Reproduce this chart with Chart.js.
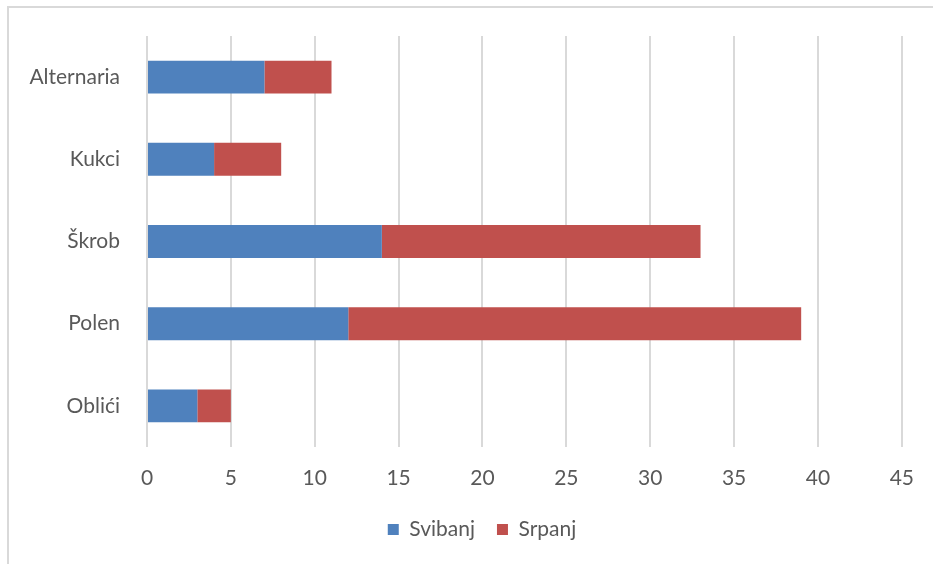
<!DOCTYPE html>
<html>
<head>
<meta charset="utf-8">
<script src="https://cdn.jsdelivr.net/npm/chart.js@4"></script>
<style>
    html, body { margin: 0; padding: 0; background: #fff; }
    #wrap { width: 933px; height: 564px; }
</style>
</head>
<body>
<div id="wrap"><canvas id="chart"></canvas></div>
<script>
// chart data
const categories = ['Alternaria', 'Kukci', 'Škrob', 'Polen', 'Oblići'];
const svibanj = [7, 4, 14, 12, 3];
const srpanj = [4, 4, 19, 27, 2];
const xTicks = [0, 5, 10, 15, 20, 25, 30, 35, 40, 45];

const FONT = { family: 'Lato, "Open Sans", sans-serif', size: 21 };

// frame round the chart, only the top and left edge show in the picture
const framePlugin = {
    id: 'frame',
    beforeDraw: function(chart) {
        const ctx = chart.ctx;
        ctx.save();
        ctx.strokeStyle = '#d9d9d9';
        ctx.lineWidth = 2;
        ctx.strokeRect(8, 7, 940, 570);
        ctx.restore();
    }
};

// the legend sits a bit right of centre in the picture
const legendShift = {
    id: 'legendShift',
    afterLayout: function(chart) {
        if (chart.legend) {
            chart.legend.left += 30;
            chart.legend.right += 30;
        }
    }
};

const ctx = document.getElementById('chart').getContext('2d');
const chart = new Chart(ctx, {
    type: 'bar',
    data: {
        labels: categories,
        datasets: [{
            label: 'Svibanj',
            data: svibanj,
            backgroundColor: '#4f81bd',
            barPercentage: 0.4,
            categoryPercentage: 1
        }, {
            label: 'Srpanj',
            data: srpanj,
            backgroundColor: '#c0504d',
            barPercentage: 0.4,
            categoryPercentage: 1
        }]
    },
    options: {
        indexAxis: 'y',
        responsive: true,
        maintainAspectRatio: false,
        animation: false,
        layout: { padding: { left: 0, right: 29, top: 36, bottom: 14 } },
        plugins: {
            legend: {
                position: 'bottom',
                labels: {
                    boxWidth: 11,
                    boxHeight: 11,
                    padding: 22,
                    color: '#595959',
                    font: FONT
                }
            },
            tooltip: { enabled: false }
        },
        scales: {
            x: {
                stacked: true,
                min: 0,
                max: 45,
                afterBuildTicks: function(scale) {
                    scale.ticks = xTicks.map(v => ({ value: v }));
                },
                afterFit: function(scale) { scale.height = 50; },
                grid: { color: '#d9d9d9', lineWidth: 2, drawTicks: false },
                border: { display: false },
                ticks: {
                    padding: 19,
                    color: '#595959',
                    font: FONT
                }
            },
            y: {
                stacked: true,
                afterFit: function(scale) { scale.width = 147; },
                grid: { display: false },
                border: { display: false },
                ticks: {
                    padding: 19,
                    color: '#595959',
                    font: FONT
                }
            }
        }
    },
    plugins: [framePlugin, legendShift]
});
</script>
</body>
</html>
